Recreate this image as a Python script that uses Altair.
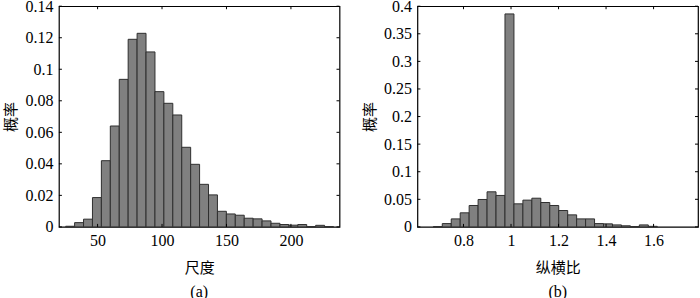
import altair as alt
import pandas as pd

# ---- data ----
scale_edges = [25.25, 32.18, 39.10, 46.03, 52.95, 59.88, 66.81, 73.73, 80.66, 87.58,
               94.51, 101.44, 108.36, 115.29, 122.21, 129.14, 136.07, 142.99, 149.92, 156.84,
               163.77, 170.70, 177.62, 184.55, 191.47, 198.40, 205.33, 212.25, 219.18, 226.10,
               233.03]
scale_prob = [0.0004, 0.0027, 0.0049, 0.0186, 0.042, 0.064, 0.0936, 0.119, 0.1228, 0.111,
              0.0858, 0.0784, 0.071, 0.0505, 0.0397, 0.027, 0.0203, 0.0099, 0.0082, 0.0074,
              0.0055, 0.0051, 0.0038, 0.0023, 0.0015, 0.0011, 0.0015, 0.0002, 0.001, 0.0002]

ratio_edges = [0.673, 0.7107, 0.7484, 0.7861, 0.8238, 0.8615, 0.8992, 0.9369, 0.9746, 1.0123,
               1.05, 1.0877, 1.1254, 1.1631, 1.2008, 1.2385, 1.2762, 1.3139, 1.3516, 1.3893,
               1.427, 1.4647, 1.5024, 1.5401, 1.5778, 1.6155]
ratio_prob = [0.0005, 0.006, 0.0145, 0.0255, 0.0388, 0.0497, 0.0636, 0.057, 0.386, 0.0418,
              0.0485, 0.052, 0.0442, 0.0388, 0.0297, 0.0218, 0.0145, 0.0145, 0.006, 0.0055,
              0.0036, 0.002, 0.0006, 0.0036, 0.001]

scale_xticks = [50, 100, 150, 200]
scale_yticks = [0, 0.02, 0.04, 0.06, 0.08, 0.1, 0.12, 0.14]
ratio_xticks = [0.8, 1.0, 1.2, 1.4, 1.6]
ratio_yticks = [0, 0.05, 0.1, 0.15, 0.2, 0.25, 0.3, 0.35, 0.4]

W, H = 281, 221
SERIF = "Liberation Serif"
CJK = "Noto Sans CJK SC"


def panel(edges, probs, xdom, ydom, xticks, yticks, xtitle, tag):
    bars = pd.DataFrame({"lo": edges[:-1], "hi": edges[1:], "p": probs,
                         "z": [0.0] * len(probs)})
    xs = alt.Scale(domain=xdom, nice=False, zero=False)
    ys = alt.Scale(domain=ydom, nice=False)
    xaxis = alt.Axis(values=xticks, format="~r", title=xtitle, grid=False, domain=False,
                     ticks=False, labelFont=SERIF, labelFontSize=16, labelColor="black",
                     labelPadding=6, labelOverlap=False, labelFlush=False,
                     titleFont=CJK, titleFontSize=15, titleFontWeight="normal",
                     titleColor="black", titlePadding=12)
    yaxis = alt.Axis(values=yticks, format="~r", title="概率", grid=False, domain=False,
                     ticks=False, labelFont=SERIF, labelFontSize=16, labelColor="black",
                     labelPadding=6, labelOverlap=False, labelFlush=False,
                     titleFont=CJK, titleFontSize=15, titleFontWeight="normal",
                     titleColor="black", titlePadding=6)
    base = alt.Chart(bars).mark_rect(fill="#808080", stroke="#2e2e2e", strokeWidth=1).encode(
        x=alt.X("lo:Q", scale=xs, axis=xaxis, title=xtitle),
        x2="hi:Q",
        y=alt.Y("p:Q", scale=ys, axis=yaxis, title="概率"),
        y2="z:Q",
    )
    xt = pd.DataFrame({"t": xticks})
    yt = pd.DataFrame({"t": yticks})
    tb = alt.Chart(xt).mark_rule(color="black", strokeWidth=1).encode(
        x=alt.X("t:Q", scale=xs, axis=xaxis, title=xtitle), y=alt.value(H), y2=alt.value(H - 3))
    tt = alt.Chart(xt).mark_rule(color="black", strokeWidth=1).encode(
        x=alt.X("t:Q", scale=xs, axis=xaxis, title=xtitle), y=alt.value(0), y2=alt.value(3))
    tl = alt.Chart(yt).mark_rule(color="black", strokeWidth=1).encode(
        y=alt.Y("t:Q", scale=ys, axis=yaxis, title="概率"), x=alt.value(0), x2=alt.value(3))
    tr = alt.Chart(yt).mark_rule(color="black", strokeWidth=1).encode(
        y=alt.Y("t:Q", scale=ys, axis=yaxis, title="概率"), x=alt.value(W - 3), x2=alt.value(W))
    return alt.layer(base, tb, tt, tl, tr).properties(
        width=W, height=H,
        title=alt.TitleParams(text=tag, orient="bottom", font=SERIF, fontSize=16,
                              fontWeight="normal", color="black", offset=8),
    )


left = panel(scale_edges, scale_prob, [20, 237.7], [0, 0.14], scale_xticks, scale_yticks, "尺度", "(a)")
right = panel(ratio_edges, ratio_prob, [0.606, 1.787], [0, 0.4], ratio_xticks, ratio_yticks, "纵横比", "(b)")

chart = alt.hconcat(left, right, spacing=78, bounds="flush").properties(
    padding={"left": 3, "top": -3, "right": 0, "bottom": 4},
    background="white",
).configure_view(stroke="black", strokeWidth=1.2)

chart.save("out.html", embed_options={"renderer": "svg", "actions": False})
